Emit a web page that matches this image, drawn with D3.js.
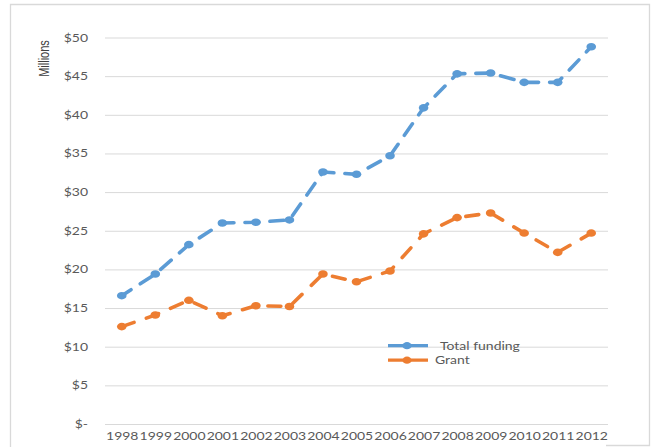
<!DOCTYPE html>
<html>
<head>
<meta charset="utf-8">
<script src="https://cdn.jsdelivr.net/npm/d3@7"></script>
<style>
  html, body { margin: 0; padding: 0; background: #fff; }
  svg { display: block; }
  text { font-family: Lato, "Open Sans", sans-serif; }
</style>
</head>
<body>
<svg id="chart" width="652" height="447"></svg>
<script>
const years = ["1998","1999","2000","2001","2002","2003","2004","2005","2006","2007","2008","2009","2010","2011","2012"];
const totalFunding = [16.6, 19.4, 23.2, 26.0, 26.1, 26.4, 32.6, 32.3, 34.7, 40.9, 45.3, 45.4, 44.2, 44.2, 48.8];
const grant = [12.6, 14.1, 16.0, 14.0, 15.3, 15.2, 19.4, 18.4, 19.8, 24.6, 26.7, 27.3, 24.7, 22.2, 24.7];
const yTicks = [0, 5, 10, 15, 20, 25, 30, 35, 40, 45, 50];
const seriesNames = ["Total funding", "Grant"];
const yTitle = "Millions";

const colors = ["#5B9BD5", "#ED7D31"];
const textColor = "#595959";
const gridColor = "#D9D9D9";
const stretch = 1.27;

const svg = d3.select("#chart");

// chart frame
svg.append("path")
  .attr("d", "M10.5,447 V4.5 H649.5 V445.5 H606")
  .attr("fill", "none").attr("stroke", "#D9D9D9").attr("stroke-width", 1.3);

const x = d3.scalePoint().domain(years).range([105, 608]).padding(0.5);
const y = d3.scaleLinear().domain([0, 50]).range([424, 37.5]);

// gridlines
const grid = svg.append("g").attr("transform", "translate(105,0)")
  .call(d3.axisLeft(y).tickValues(yTicks).tickSize(-503).tickFormat(""));
grid.select(".domain").remove();
grid.selectAll("line").attr("stroke", gridColor).attr("stroke-width", 1);

// y labels
const yAxis = svg.append("g").attr("transform", "translate(105,0)")
  .call(d3.axisLeft(y).tickValues(yTicks).tickSize(0).tickPadding(17)
    .tickFormat(d => d === 0 ? "$-" : "$" + d));
yAxis.select(".domain").remove();
yAxis.selectAll("text").attr("fill", textColor).style("font-size", "11px")
  .style("font-family", "Lato, sans-serif");

// x labels
const xAxis = svg.append("g").attr("transform", "translate(0,424)")
  .call(d3.axisBottom(x).tickSize(0).tickPadding(8));
xAxis.select(".domain").remove();
xAxis.selectAll("text").attr("fill", textColor).style("font-size", "11px")
  .style("font-family", "Lato, sans-serif");

// y title
svg.append("text")
  .attr("transform", "translate(49,58.5) rotate(-90) scale(1,1.25)")
  .attr("text-anchor", "middle")
  .attr("fill", "#404040")
  .style("font-size", "11px")
  .style("font-family", "'Liberation Sans Narrow', 'Liberation Sans', sans-serif")
  .text(yTitle);

// series
const series = [totalFunding, grant];
const line = d3.line().x((d, i) => x(years[i])).y(d => y(d));
const dashes = [{arr: "14,11", off: 3}, {arr: "13,13", off: 0}];
series.forEach((vals, si) => {
  svg.append("path")
    .datum(vals)
    .attr("d", line)
    .attr("fill", "none")
    .attr("stroke", colors[si])
    .attr("stroke-width", 3.6)
    .attr("stroke-linecap", "round")
    .attr("stroke-dasharray", dashes[si].arr)
    .attr("stroke-dashoffset", dashes[si].off);
  svg.append("g").selectAll("ellipse")
    .data(vals).join("ellipse")
    .attr("cx", (d, i) => x(years[i]))
    .attr("cy", d => y(d))
    .attr("rx", 4.8).attr("ry", 3.8)
    .attr("fill", colors[si]);
});

// legend
const legend = svg.append("g").attr("transform", "translate(388,345.7)");
seriesNames.forEach((name, i) => {
  const g = legend.append("g").attr("transform", `translate(0,${i * 14.5})`);
  g.append("line").attr("x1", 0).attr("x2", 40).attr("y1", 0).attr("y2", 0)
    .attr("stroke", colors[i]).attr("stroke-width", 3.2);
  g.append("ellipse").attr("cx", 19).attr("cy", 0).attr("rx", 4.6).attr("ry", 3.6)
    .attr("fill", colors[i]);
  g.append("text").attr("x", i === 0 ? 52 : 47).attr("y", 4.2)
    .attr("fill", textColor).style("font-size", "11px")
    .style("font-family", "Lato, sans-serif")
    .text(name);
});

// stretch text horizontally like the reference
svg.selectAll("g text").each(function() {
  const w = this.getComputedTextLength();
  d3.select(this).attr("textLength", w * stretch).attr("lengthAdjust", "spacingAndGlyphs");
});
</script>
</body>
</html>
